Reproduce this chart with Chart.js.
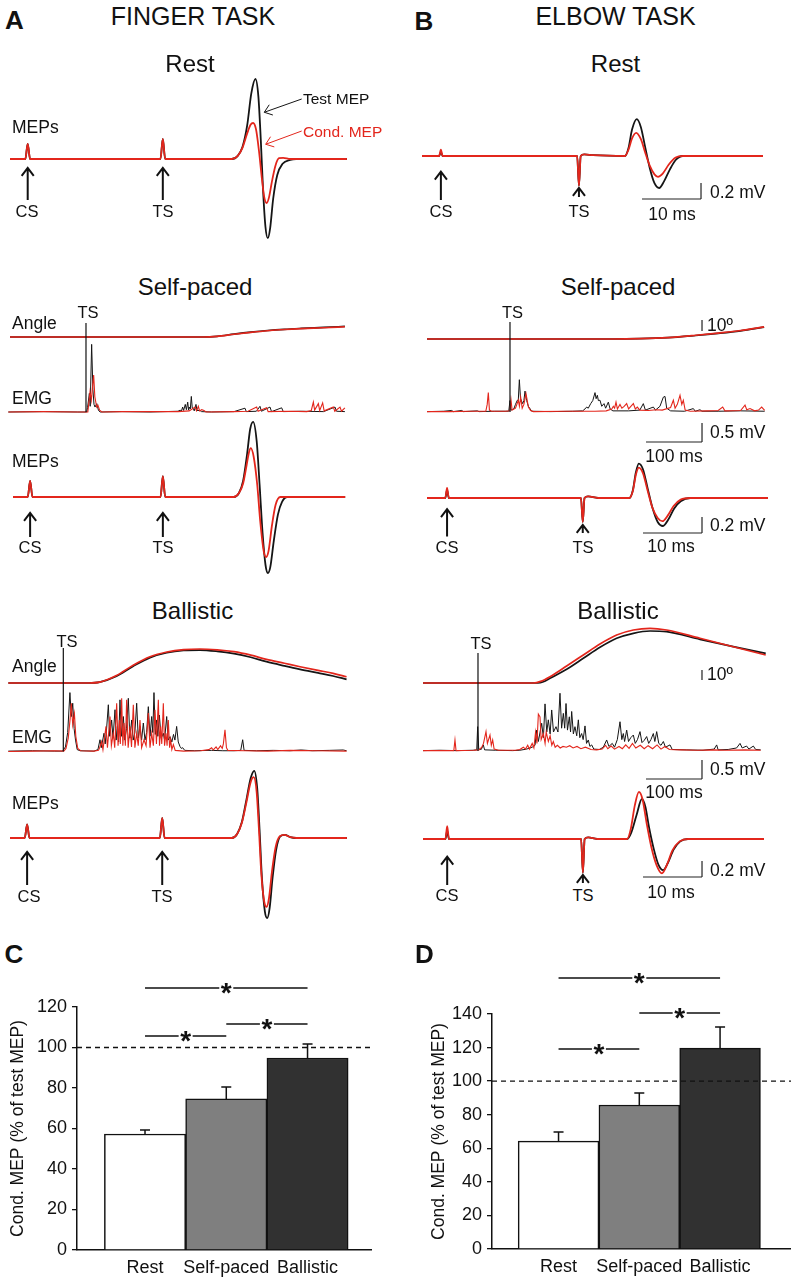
<!DOCTYPE html>
<html>
<head>
<meta charset="utf-8">
<script src="https://cdn.jsdelivr.net/npm/chart.js@4.4.1/dist/chart.umd.min.js"></script>
<style>
  body { margin: 0; width: 791px; height: 1280px; position: relative; background: #fff; overflow: hidden;
         font-family: "Liberation Sans", Arial, sans-serif; color: #111; }
  canvas { position: absolute; }
  .t { position: absolute; white-space: nowrap; line-height: 1; }
</style>
</head>
<body>
<script>
// ---------- data (time in ms, MEP in mV, angle in degrees, EMG in mV) ----------
// MEP sweeps: [ms, mV]
const aRestTest = [[0,0],[2.6,0],[3.0,0.19],[3.4,0],[25.5,0],[25.9,0.25],[26.3,0],[37.6,0],[38.6,0.04],[39.4,0.15],[40.2,0.42],[40.9,0.82],[41.6,1.0],[42.1,0.78],[42.5,0.25],[42.9,-0.4],[43.3,-0.85],[43.7,-0.99],[44.1,-0.86],[44.6,-0.5],[45.3,-0.2],[46.2,-0.06],[47.5,-0.01],[48.5,0],[57.1,0]];
const aRestCond = [[0,0],[2.6,0],[3.0,0.19],[3.4,0],[25.5,0],[25.9,0.25],[26.3,0],[37.6,0],[38.6,0.04],[39.4,0.14],[40.2,0.32],[40.8,0.43],[41.2,0.45],[41.7,0.37],[42.2,0.1],[42.7,-0.25],[43.1,-0.48],[43.5,-0.55],[43.9,-0.48],[44.4,-0.28],[45.0,-0.08],[45.6,0.01],[46.3,0.015],[47.5,0],[57.1,0]];
const aSelfTest = [[0,0],[2.5,0],[2.9,0.2],[3.3,0],[25.0,0],[25.4,0.26],[25.8,0],[37.4,0],[38.3,0.05],[39.0,0.2],[39.7,0.55],[40.2,0.85],[40.7,0.94],[41.3,0.7],[41.8,0.15],[42.3,-0.45],[42.8,-0.85],[43.2,-0.95],[43.6,-0.88],[44.2,-0.55],[44.9,-0.22],[45.6,-0.06],[46.5,0],[56.3,0]];
const aSelfCond = [[0,0],[2.5,0],[2.9,0.2],[3.3,0],[25.0,0],[25.4,0.26],[25.8,0],[37.4,0],[38.3,0.05],[39.0,0.17],[39.6,0.4],[40.0,0.56],[40.3,0.61],[40.8,0.5],[41.4,0.15],[41.9,-0.3],[42.5,-0.68],[42.9,-0.75],[43.3,-0.68],[43.9,-0.35],[44.5,-0.1],[45.3,0],[56.3,0]];
const aBallTest = [[0,0],[2.5,0],[2.9,0.17],[3.3,0],[25.4,0],[25.8,0.25],[26.2,0],[37.6,0],[38.5,0.05],[39.3,0.2],[40.0,0.45],[40.8,0.75],[41.4,0.84],[41.9,0.62],[42.3,0.1],[42.7,-0.5],[43.2,-0.92],[43.6,-1.0],[44.0,-0.88],[44.5,-0.5],[45.1,-0.15],[45.8,0.02],[46.6,0.04],[47.5,0.01],[48.5,0],[57.1,0]];
const aBallCond = [[0,0],[2.5,0],[2.9,0.17],[3.3,0],[25.4,0],[25.8,0.25],[26.2,0],[37.6,0],[38.5,0.05],[39.3,0.19],[40.0,0.42],[40.8,0.7],[41.3,0.76],[41.8,0.58],[42.2,0.1],[42.6,-0.45],[43.1,-0.8],[43.5,-0.86],[43.9,-0.75],[44.4,-0.42],[45.0,-0.12],[45.7,0.02],[46.5,0.04],[47.5,0.01],[48.5,0],[57.1,0]];
const bRestTest = [[0,0],[2.9,0],[3.2,0.05],[3.5,0],[26.3,0],[26.6,-0.37],[26.9,0],[27.5,0.02],[29,0.01],[34.4,0],[35.0,0.1],[35.6,0.33],[36.4,0.46],[37.1,0.36],[37.8,0.12],[38.6,-0.15],[39.4,-0.34],[40.2,-0.4],[41.0,-0.32],[42.0,-0.17],[43.0,-0.05],[44.2,0],[57.8,0]];
const bRestCond = [[0,0],[2.9,0],[3.2,0.08],[3.5,0],[26.3,0],[26.6,-0.37],[26.9,0],[27.5,0.02],[29,0.01],[34.4,0],[35.0,0.08],[35.6,0.22],[36.3,0.29],[37.1,0.21],[37.8,0.05],[38.6,-0.12],[39.4,-0.23],[40.0,-0.26],[40.8,-0.22],[41.8,-0.11],[43.0,-0.02],[44.2,0],[57.8,0]];
const bSelfTest = [[0,0],[3.1,0],[3.4,0.1],[3.7,0],[26.1,0],[26.4,-0.3],[26.7,0],[27.3,0.02],[29,0],[34.3,0],[34.9,0.1],[35.4,0.32],[35.9,0.43],[36.6,0.36],[37.4,0.12],[38.2,-0.12],[39.1,-0.3],[40.0,-0.35],[40.9,-0.27],[41.9,-0.13],[43.0,-0.04],[44.6,0],[57.8,0]];
const bSelfCond = [[0,0],[3.1,0],[3.4,0.125],[3.7,0],[26.1,0],[26.4,-0.3],[26.7,0],[27.3,0.02],[29,0],[34.3,0],[34.9,0.09],[35.4,0.29],[35.9,0.38],[36.6,0.31],[37.4,0.09],[38.2,-0.12],[39.1,-0.25],[39.9,-0.29],[40.8,-0.22],[41.8,-0.1],[43.0,-0.02],[44.6,0],[57.8,0]];
const bBallTest = [[0,0],[3.8,0],[4.1,0.1],[4.4,0],[26.8,0],[27.1,-0.42],[27.4,0],[28,0.02],[29.5,0],[34.6,0],[35.3,0.08],[36.2,0.3],[37.1,0.5],[37.7,0.4],[38.3,0.15],[39.1,-0.12],[39.9,-0.32],[40.7,-0.39],[41.5,-0.3],[42.5,-0.13],[43.6,-0.03],[44.9,0],[57.8,0]];
const bBallCond = [[0,0],[3.8,0],[4.1,0.16],[4.4,0],[26.8,0],[27.1,-0.42],[27.4,0],[28,0.02],[29.5,0],[34.6,0],[35.2,0.12],[35.9,0.42],[36.6,0.59],[37.2,0.5],[37.9,0.2],[38.7,-0.1],[39.6,-0.33],[40.5,-0.43],[41.3,-0.33],[42.3,-0.14],[43.5,-0.03],[44.9,0],[57.8,0]];

// joint angle: [ms, deg]
const aSelfAngleTest = [[0,0],[345,0],[370,0.6],[400,2.6],[430,4.4],[460,5.9],[490,7.0],[520,7.8],[560,8.7],[598,9.6]];
const aSelfAngleCond = [[0,0],[345,0],[370,0.6],[400,2.5],[430,4.2],[460,5.7],[490,6.8],[520,7.6],[560,8.4],[598,9.3]];
const aBallAngleTest = [[-3,0],[140,0],[160,0.8],[190,6.5],[220,16],[250,24.2],[280,28.8],[310,31],[339,31.4],[370,30.2],[400,28],[430,24.5],[458,20.3],[490,16.3],[518,13],[550,9.6],[577,6.7],[601,3.5]];
const aBallAngleCond = [[-3,0],[140,0],[160,0.8],[190,7.2],[220,17],[250,25],[280,29.5],[310,31.8],[339,32.4],[370,31.6],[400,29.8],[430,26.5],[458,22.5],[490,18.8],[518,15.5],[550,12],[577,9.2],[601,6]];
const bSelfAngleTest = [[0,0],[330,0],[380,0.3],[430,1.2],[480,3.2],[520,5.1],[560,7.4],[602,10.8]];
const bSelfAngleCond = [[0,0],[330,0],[380,0.3],[430,1.3],[480,3.4],[520,5.4],[560,7.7],[602,11.1]];
const bBallAngleTest = [[0,0],[205,0],[215,1.2],[226.8,4.7],[256.5,13.7],[286.3,24.7],[316,35.7],[345.8,44.7],[375.6,49.7],[405.4,52],[435,51.3],[494.6,43.7],[554,36.3],[612,29.7]];
const bBallAngleCond = [[0,0],[197,0],[210,1.6],[226.8,6.3],[256.5,17],[286.3,28],[316,39],[345.8,48],[375.6,53],[405.4,54.7],[435,53],[494.6,44.7],[554,36.3],[612,28]];

// rectified EMG: [ms, mV]
const aSelfEmgTest = [[-3,0],[60,0.01],[120,0],[137,0],[138.5,0.12],[141.7,0.49],[143.2,0.15],[145.8,1.78],[148,0.6],[150,0.2],[151.8,0.13],[155,0.22],[158,0.04],[161,0],[200,0.01],[250,0],[300,0.02],[304,0.05],[306,0.02],[308.3,0.13],[310,0.04],[313,0.2],[315,0.06],[317.3,0.26],[319,0.05],[320.2,0.13],[322,0.08],[323.8,0.41],[325.5,0.1],[327.4,0.09],[329,0.03],[332.1,0.2],[334,0.04],[339.3,0.04],[342,0.01],[360,0],[400,0.01],[419.6,0.1],[422,0.01],[440,0.02],[446.4,0.15],[449,0.02],[464.3,0.13],[467,0.01],[485.1,0.11],[488,0.01],[520,0.02],[560,0.01],[580.4,0.13],[583,0.02],[598,0.01]];
const aSelfEmgCond = [[-3,0],[60,0.01],[120,0],[139,0],[140.5,0.2],[142.9,0.53],[145.2,0.31],[147,0.6],[149.4,0.97],[151.5,0.4],[154.8,0.13],[157,0.18],[160,0.05],[164,0],[200,0.01],[300,0.01],[320,0.03],[330.4,0.13],[333,0.03],[336.3,0.15],[338.5,0.03],[342.3,0.06],[346.4,0.04],[350,0],[400,0.01],[425,0.02],[440.5,0.13],[443,0.02],[458.3,0.11],[461,0.01],[500,0.02],[530,0.01],[538,0.04],[541.7,0.26],[544,0.05],[550.6,0.22],[553,0.04],[558.3,0.24],[561,0.03],[577.4,0.13],[580,0.02],[589.3,0.13],[592,0.02],[598,0.11]];
const aBallEmgTest = [[-3,0.01],[40,0.02],[80,0.01],[94,0.01],[95.5,0.05],[99,0.12],[103,0.5],[107,1.55],[109.5,0.92],[112,1.27],[114.5,0.6],[117,0.3],[120,0.05],[125,0.02],[150,0.01],[157,0.05],[160.7,0.31],[163,0.1],[167.9,0.48],[170,0.2],[172,0.5],[175.6,1.23],[178,0.4],[181.5,0.83],[184,0.35],[187.5,1.1],[189.5,0.3],[191.7,0.66],[194,0.25],[196.4,1.36],[199,0.4],[202.4,0.92],[205,0.3],[208,0.6],[211.3,1.4],[214,0.35],[217.3,0.83],[220,0.3],[223,0.5],[226.2,1.27],[229,0.35],[232.1,0.66],[235,0.3],[238.1,0.75],[241,0.3],[244,0.5],[247,1.18],[250,0.4],[253,0.92],[255,0.5],[257.1,1.55],[259.5,0.45],[261.9,0.83],[264,0.4],[266.7,0.96],[270,0.35],[273.8,0.48],[276,0.3],[279.8,0.92],[282.5,0.3],[285.7,0.39],[289,0.25],[292,0.45],[294.5,0.3],[297.6,0.66],[300.5,0.25],[303.6,0.13],[306,0.08],[308.3,0.1],[312,0.03],[330,0.02],[360,0.03],[380,0.02],[400,0.02],[412,0.03],[415.5,0.31],[418,0.03],[440,0.02],[470,0.03],[500,0.02],[520,0.04],[540,0.02],[570,0.03],[595,0.04],[601,0.02]];
const aBallEmgCond = [[-3,0],[40,0.01],[80,0.02],[96,0.01],[100,0.08],[104,0.35],[107,0.8],[109.5,1.27],[112,0.7],[115,1.0],[117.5,0.4],[121,0.08],[126,0.02],[150,0.01],[158,0.03],[160,0.1],[163.7,0.26],[166,0.05],[171.4,0.66],[174,0.1],[178.6,0.92],[181,0.15],[184.5,0.48],[187,0.1],[190.5,1.27],[193,0.15],[195.2,0.83],[197,0.2],[199.4,1.4],[201.5,0.15],[203.6,0.75],[206,0.15],[208.3,1.36],[211,0.1],[214.3,0.66],[217,0.12],[220.2,1.23],[223,0.1],[226.2,0.48],[229,0.15],[232.1,0.83],[235,0.1],[239.3,0.31],[243,0.15],[247,1.01],[250,0.1],[253,0.48],[256,0.15],[258.9,1.1],[261.5,0.2],[264.9,1.36],[267,0.15],[269,0.66],[271,0.2],[273.8,1.27],[276,0.15],[278.6,0.48],[280.5,0.15],[282.7,0.83],[285,0.1],[286.9,0.31],[289,0.05],[291.7,0.18],[295,0.03],[310,0.01],[340,0.02],[355,0.05],[360,0.1],[363,0.04],[368,0.12],[371,0.05],[376,0.15],[379,0.08],[381,0.2],[383.9,0.57],[386.5,0.1],[389,0.03],[420,0.02],[460,0.01],[500,0.03],[550,0.02],[601,0.01]];
const bSelfEmgTest = [[0,0.01],[30,0.02],[44,0.04],[47,0.01],[62,0.04],[65,0.01],[90,0.03],[93,0.01],[120,0.02],[146,0.02],[148.2,0.3],[150,0.05],[155,0.08],[158,0.2],[161.3,0.31],[163,0.3],[164.9,0.85],[167,0.35],[170.8,0.22],[173,0.3],[175,0.55],[178,0.3],[181,0.15],[187,0.02],[220,0.01],[260,0.02],[278,0.03],[282.1,0.08],[285.1,0.13],[288,0.1],[292.3,0.22],[296,0.3],[300,0.51],[302,0.35],[304.2,0.44],[306,0.3],[308.9,0.31],[312,0.15],[316.1,0.22],[319,0.1],[323.8,0.26],[327,0.08],[332,0.03],[360,0.03],[380,0.05],[386.3,0.22],[390,0.05],[404.2,0.13],[408,0.05],[416,0.15],[422,0.39],[425,0.41],[428,0.1],[435,0.03],[460,0.02],[475.6,0.09],[479,0.02],[487.5,0.06],[491,0.02],[520,0.02],[560,0.03],[603,0.02]];
const bSelfEmgCond = [[0,0.01],[40,0.01],[80,0.02],[105,0.02],[107.5,0.2],[109.5,0.51],[111.5,0.05],[115,0.02],[140,0.02],[148,0.03],[150,0.32],[152,0.05],[158,0.1],[163.1,0.31],[165,0.15],[167.3,0.39],[170,0.1],[173,0.2],[176.8,0.48],[179,0.3],[181,0.13],[185,0.04],[190,0.01],[250,0.02],[300,0.02],[320,0.03],[330,0.08],[332.7,0.15],[335,0.1],[337.5,0.26],[340,0.08],[344.6,0.2],[348,0.1],[352,0.15],[356.5,0.22],[360,0.08],[364,0.15],[368.5,0.22],[372,0.08],[375.6,0.13],[380,0.05],[395,0.04],[410,0.06],[420,0.05],[435,0.12],[439.9,0.31],[443,0.1],[447,0.2],[451.8,0.44],[455,0.2],[457.7,0.31],[461,0.05],[470,0.02],[500,0.03],[520,0.04],[528,0.13],[532,0.03],[560,0.04],[567.9,0.18],[571,0.06],[576.8,0.09],[585,0.03],[592,0.05],[597.6,0.13],[603,0.04]];
const bBallEmgTest = [[0,0.01],[30,0.02],[60,0.01],[90,0.02],[96,0.03],[97.6,0.64],[99.5,0.05],[104,0.04],[107.7,0.16],[110,0.03],[130,0.02],[160,0.01],[173,0.02],[185,0.05],[195,0.1],[200,0.15],[203,0.55],[206,0.25],[211.9,0.73],[215,0.35],[217.9,1.24],[221,0.5],[223.8,0.82],[227,0.45],[229.8,1.08],[233,0.5],[237.5,0.64],[241,0.5],[244.6,1.52],[247.5,0.6],[250.6,0.99],[253,0.6],[255.4,1.25],[258,0.55],[261.3,0.9],[263.5,0.5],[265.5,1.04],[268.5,0.45],[271.4,0.64],[274.5,0.4],[277.4,0.82],[280,0.35],[283.3,0.46],[286,0.3],[289.3,0.66],[292,0.2],[295.2,0.29],[298,0.12],[301.2,0.16],[305,0.05],[315,0.04],[322,0.1],[328,0.29],[332,0.12],[338,0.2],[342,0.1],[347,0.3],[351.8,0.77],[355,0.3],[357.7,0.46],[360,0.25],[363.7,0.55],[367,0.25],[371,0.35],[375.6,0.42],[379,0.2],[383,0.3],[387.5,0.51],[391,0.22],[395,0.28],[399.4,0.38],[403,0.2],[407,0.3],[411.3,0.46],[414,0.25],[417.3,0.51],[421,0.2],[425,0.15],[429.2,0.25],[433,0.1],[441.1,0.16],[445,0.04],[470,0.03],[500,0.02],[520,0.05],[524.4,0.16],[527,0.03],[545,0.04],[560,0.08],[566.1,0.2],[570,0.08],[577.9,0.13],[582,0.05],[589.9,0.13],[594,0.04],[603,0.03]];
const bBallEmgCond = [[0,0.01],[30,0.01],[55,0.01],[57.1,0.29],[59,0.01],[90,0.02],[100,0.03],[105,0.1],[108,0.2],[112.5,0.51],[115,0.2],[119.6,0.42],[122,0.15],[124.4,0.29],[127,0.05],[135,0.02],[165,0.02],[173,0.04],[179.2,0.1],[183,0.05],[187,0.15],[190,0.05],[195,0.2],[198,0.08],[201,0.5],[203.5,0.2],[206,0.97],[208.9,0.9],[211,0.3],[214.9,0.46],[218,0.2],[220,0.5],[223.8,0.25],[227,0.4],[230,0.15],[232.7,0.25],[236,0.1],[240,0.15],[245,0.08],[250,0.12],[256,0.1],[262,0.14],[268,0.08],[275,0.12],[282,0.06],[290,0.1],[300,0.04],[310,0.03],[320,0.05],[326,0.15],[330,0.06],[336,0.13],[342,0.05],[350,0.12],[356,0.06],[362,0.16],[368,0.07],[374,0.2],[380,0.08],[388,0.15],[395,0.06],[402,0.14],[410,0.06],[418,0.16],[425,0.05],[432,0.12],[440,0.04],[460,0.03],[490,0.02],[520,0.03],[540,0.02],[575,0.03],[603,0.02]];

// group data for C and D
const conditions = ['Rest', 'Self-paced', 'Ballistic'];
const fingerMeans = [57.3, 74.6, 94.8];
const fingerErrors = [2.0, 5.9, 6.9];
const elbowMeans = [64.3, 85.8, 119.7];
const elbowErrors = [5.4, 7.1, 12.5];
// significance bars: [from condition, to condition, height]
const fingerSig = [[1, 3, 129.4], [2, 3, 111.6], [1, 2, 105.7]];
const elbowSig = [[1, 3, 161.4], [2, 3, 140.6], [1, 2, 119.1]];

// ---------- helpers ----------
const FONT = '"Liberation Sans", Arial, sans-serif';
const BLACK = '#151515';
const RED = '#e3261c';
Chart.defaults.font.family = FONT;
Chart.defaults.color = '#111';

function label(txt, x, y, size, o = {}) {
  const d = document.createElement('div');
  d.className = 't';
  d.textContent = txt;
  d.style.left = x + 'px';
  d.style.top = y + 'px';
  d.style.fontSize = size + 'px';
  d.style.transform = o.left ? 'translate(0,-50%)' : 'translate(-50%,-50%)';
  if (o.bold) d.style.fontWeight = 'bold';
  if (o.color) d.style.color = o.color;
  document.body.appendChild(d);
}

function addCanvas(box) {
  const cv = document.createElement('canvas');
  cv.width = box.w; cv.height = box.h;
  cv.style.left = box.x + 'px'; cv.style.top = box.y + 'px';
  document.body.appendChild(cv);
  return cv;
}

function drawArrow(ctx, x1, y1, x2, y2, head, color, lw) {
  const a = Math.atan2(y2 - y1, x2 - x1);
  ctx.strokeStyle = color; ctx.lineWidth = lw;
  ctx.beginPath();
  ctx.moveTo(x1, y1); ctx.lineTo(x2, y2);
  ctx.moveTo(x2 - head * Math.cos(a - 0.65), y2 - head * Math.sin(a - 0.65));
  ctx.lineTo(x2, y2);
  ctx.lineTo(x2 - head * Math.cos(a + 0.65), y2 - head * Math.sin(a + 0.65));
  ctx.stroke();
}

// annotations drawn through the chart scales
function marks(m) {
  return {
    id: 'marks',
    afterDatasetsDraw(chart) {
      const ctx = chart.ctx;
      const px = v => chart.scales.x.getPixelForValue(v);
      const py = (v, ax) => chart.scales[ax || 'y'].getPixelForValue(v);
      ctx.save();
      (m.segments || []).forEach(s => {
        ctx.strokeStyle = s.color || '#222'; ctx.lineWidth = s.lw || 1.2;
        ctx.beginPath();
        ctx.moveTo(px(s.x1), py(s.y1, s.ax1));
        ctx.lineTo(px(s.x2), py(s.y2, s.ax2));
        ctx.stroke();
      });
      (m.arrows || []).forEach(a => {
        drawArrow(ctx, px(a.x1), py(a.y1), px(a.x2), py(a.y2), a.head || 10, a.color || '#111', a.lw || 2);
      });
      ctx.restore();
    }
  };
}

const stimArrow = (t, tail, tip) => ({ x1: t, y1: tail, x2: t, y2: tip });
const lBar = (t, v, dt, dv, ax) => [
  { x1: t - dt, y1: v, x2: t, y2: v, ax1: ax, ax2: ax },
  { x1: t, y1: v, x2: t, y2: v + dv, ax1: ax, ax2: ax }
];
const vBar = (t, v, dv, ax) => ({ x1: t, y1: v, x2: t, y2: v + dv, ax1: ax, ax2: ax });

function line(data, color, axis, lw, smooth) {
  return {
    data: data.map(([x, y]) => ({ x, y })),
    borderColor: color, borderWidth: lw, pointRadius: 0, fill: false,
    yAxisID: axis, tension: 0,
    cubicInterpolationMode: smooth ? 'monotone' : 'default'
  };
}

// box: canvas in page px; map: page px of value 0 and px per unit for each axis
// (Chart.js paints the first dataset last, so the conditioned (red) sweeps go first)
function traceChart(box, map, datasets, m) {
  const cv = addCanvas(box);
  const scales = {
    x: { type: 'linear', display: false, bounds: 'data',
         min: (box.x - map.x0) / map.px, max: (box.x + box.w - map.x0) / map.px }
  };
  Object.entries(map.y).forEach(([id, a]) => {
    scales[id] = { type: 'linear', axis: 'y', display: false, bounds: 'data',
                   min: (a.y0 - box.y - box.h) / a.py, max: (a.y0 - box.y) / a.py };
  });
  return new Chart(cv, {
    type: 'line',
    data: { datasets },
    options: {
      responsive: false, animation: false, events: [],
      layout: { padding: 0 },
      plugins: { legend: { display: false }, tooltip: { enabled: false } },
      scales
    },
    plugins: [marks(m)]
  });
}

const MEP_PX = 5.9;   // px per ms in MEP sweeps
const MEP_PY = 80;    // px per mV
const MOV_PX = 0.56;  // px per ms in movement sweeps
const EMG_PY = 38;    // px per mV

function mepChart(box, x0, y0, test, cond, m) {
  return traceChart(box, { x0, px: MEP_PX, y: { y: { y0, py: MEP_PY } } },
    [line(cond, RED, 'y', 1.8, true), line(test, BLACK, 'y', 1.8, true)], m);
}
function movChart(box, x0, angY0, angPy, emgY0, angT, angC, emgT, emgC, m) {
  return traceChart(box, { x0, px: MOV_PX, y: { ya: { y0: angY0, py: angPy }, ye: { y0: emgY0, py: EMG_PY } } },
    [line(angC, RED, 'ya', 1.7, true), line(angT, BLACK, 'ya', 1.7, true),
     line(emgC, RED, 'ye', 1.1, false), line(emgT, BLACK, 'ye', 1, false)], m);
}

// ---------- panel A : finger task ----------
mepChart({ x: 0, y: 70, w: 395, h: 190 }, 10, 159, aRestTest, aRestCond, {
  arrows: [stimArrow(3.0, -0.5125, -0.1125), stimArrow(25.9, -0.5125, -0.1125),
           { x1: 49.44, y1: 0.75, x2: 43.1, y2: 0.584, head: 9, lw: 1, color: BLACK },
           { x1: 49.44, y1: 0.35, x2: 43.34, y2: 0.184, head: 9, lw: 1, color: RED }]
});
movChart({ x: 0, y: 300, w: 395, h: 125 }, 10, 337, 1.1, 412,
  aSelfAngleTest, aSelfAngleCond, aSelfEmgTest, aSelfEmgCond, {
  segments: [{ x1: 135.7, y1: 0, ax1: 'ye', x2: 135.7, y2: 12.7, ax2: 'ya', color: '#111', lw: 1.2 }]
});
mepChart({ x: 0, y: 415, w: 395, h: 175 }, 13, 497, aSelfTest, aSelfCond, {
  arrows: [stimArrow(2.9, -0.5, -0.2), stimArrow(25.4, -0.5, -0.2)]
});
movChart({ x: 0, y: 635, w: 395, h: 125 }, 10, 683, 1.05, 751.5,
  aBallAngleTest, aBallAngleCond, aBallEmgTest, aBallEmgCond, {
  segments: [{ x1: 95.2, y1: 0, ax1: 'ye', x2: 95.2, y2: 33.3, ax2: 'ya', color: '#111', lw: 1.2 }]
});
mepChart({ x: 0, y: 760, w: 395, h: 170 }, 10, 838, aBallTest, aBallCond, {
  arrows: [stimArrow(2.9, -0.5875, -0.175), stimArrow(25.8, -0.5875, -0.175)]
});

// ---------- panel B : elbow task ----------
mepChart({ x: 400, y: 100, w: 391, h: 110 }, 422, 156, bRestTest, bRestCond, {
  arrows: [stimArrow(3.2, -0.55, -0.196), stimArrow(26.6, -0.5125, -0.4)],
  segments: lBar(47.29, -0.5375, 10, 0.2, 'y')
});
movChart({ x: 400, y: 300, w: 391, h: 150 }, 427, 339, 1.1, 412,
  bSelfAngleTest, bSelfAngleCond, bSelfEmgTest, bSelfEmgCond, {
  segments: [{ x1: 148.2, y1: 0, ax1: 'ye', x2: 148.2, y2: 15.5, ax2: 'ya', color: '#111', lw: 1.2 },
             vBar(491.1, 7.27, 10, 'ya'), ...lBar(491.1, -0.79, 100, 0.5, 'ye')]
});
mepChart({ x: 400, y: 455, w: 391, h: 90 }, 427, 498, bSelfTest, bSelfCond, {
  arrows: [stimArrow(3.4, -0.48, -0.14), stimArrow(26.4, -0.4375, -0.3375)],
  segments: lBar(46.61, -0.4375, 10, 0.2, 'y')
});
movChart({ x: 400, y: 615, w: 391, h: 170 }, 423, 683, 1.0, 751,
  bBallAngleTest, bBallAngleCond, bBallEmgTest, bBallEmgCond, {
  segments: [{ x1: 98.2, y1: 0, ax1: 'ye', x2: 98.2, y2: 30, ax2: 'ya', color: '#111', lw: 1.2 },
             vBar(498.2, 3, 10, 'ya'), ...lBar(498.2, -0.737, 100, 0.5, 'ye')]
});
mepChart({ x: 400, y: 785, w: 391, h: 100 }, 423, 839, bBallTest, bBallCond, {
  arrows: [stimArrow(4.1, -0.575, -0.22), stimArrow(27.1, -0.55, -0.45)],
  segments: lBar(47.29, -0.475, 10, 0.2, 'y')
});

// ---------- panels C and D : group bars ----------
function barMarks(means, errs, sig) {
  return {
    id: 'barMarks',
    afterDatasetsDraw(chart) {
      const { ctx, chartArea: ca } = chart;
      const x = chart.scales.x, y = chart.scales.y;
      ctx.save();
      ctx.strokeStyle = '#111'; ctx.lineWidth = 1.5;
      means.forEach((m, i) => {
        const cx = x.getPixelForValue(i + 1);
        const y0 = y.getPixelForValue(m), y1 = y.getPixelForValue(m + errs[i]);
        ctx.beginPath();
        ctx.moveTo(cx, y0); ctx.lineTo(cx, y1);
        ctx.moveTo(cx - 5, y1); ctx.lineTo(cx + 5, y1);
        ctx.stroke();
      });
      const yr = y.getPixelForValue(100);
      ctx.setLineDash([5, 4]); ctx.lineWidth = 1.3;
      ctx.beginPath(); ctx.moveTo(ca.left, yr); ctx.lineTo(ca.right + 1, yr); ctx.stroke();
      ctx.setLineDash([]); ctx.lineWidth = 1.5;
      ctx.fillStyle = '#111';
      ctx.font = 'bold 28px ' + FONT;
      ctx.textAlign = 'center'; ctx.textBaseline = 'alphabetic';
      sig.forEach(([a, b, v]) => {
        const xa = x.getPixelForValue(a), xb = x.getPixelForValue(b);
        const yy = y.getPixelForValue(v), xm = (xa + xb) / 2;
        ctx.beginPath();
        ctx.moveTo(xa, yy); ctx.lineTo(xm - 7, yy);
        ctx.moveTo(xm + 7, yy); ctx.lineTo(xb, yy);
        ctx.stroke();
        ctx.fillText('*', xm, yy + 14);
      });
      ctx.restore();
    }
  };
}

function barChart(box, cfg) {
  const cv = addCanvas(box);
  return new Chart(cv, {
    type: 'bar',
    data: {
      datasets: [{
        data: conditions.map((c, i) => ({ x: i + 1, y: cfg.means[i] })),
        backgroundColor: ['#ffffff', '#7f7f7f', '#313131'],
        borderColor: '#111', borderWidth: 1.5, borderSkipped: 'bottom',
        barPercentage: 1, categoryPercentage: 1
      }]
    },
    options: {
      responsive: false, animation: false, events: [],
      layout: { padding: { top: cfg.padTop, right: cfg.padRight, left: 0, bottom: 0 } },
      plugins: { legend: { display: false }, tooltip: { enabled: false } },
      scales: {
        x: {
          type: 'linear', min: cfg.xMin, max: cfg.xMax, offset: false,
          grid: { display: false, drawTicks: false },
          border: { display: true, color: '#111', width: 1.5 },
          afterBuildTicks: s => { s.ticks = conditions.map((c, i) => ({ value: i + 1 })); },
          ticks: { callback: v => conditions[v - 1], font: { size: 18 }, color: '#111',
                   padding: 7, maxRotation: 0, autoSkip: false },
          afterFit: s => { s.height = cfg.xAxisH; }
        },
        y: {
          min: 0, max: cfg.yMax,
          ticks: { stepSize: 20, font: { size: 18 }, color: '#111', padding: 5 },
          grid: { display: true, drawOnChartArea: false, drawTicks: true, tickLength: 5,
                  color: '#111', lineWidth: 1.3 },
          border: { display: true, color: '#111', width: 1.5 },
          title: { display: true, text: 'Cond. MEP (% of test MEP)', font: { size: 17.5 },
                   color: '#111', padding: { top: cfg.titlePad, bottom: 0 } },
          afterFit: s => { s.width = cfg.yAxisW; }
        }
      }
    },
    plugins: [barMarks(cfg.means, cfg.errs, cfg.sig)]
  });
}

barChart({ x: 0, y: 970, w: 395, h: 310 }, {
  means: fingerMeans, errs: fingerErrors, sig: fingerSig, yMax: 120,
  padTop: 37, padRight: 24, xAxisH: 30, yAxisW: 77, titlePad: 7.5, xMin: 0.163, xMax: 3.781
});
barChart({ x: 400, y: 955, w: 391, h: 325 }, {
  means: elbowMeans, errs: elbowErrors, sig: elbowSig, yMax: 140,
  padTop: 59, padRight: 1, xAxisH: 31, yAxisW: 92, titlePad: 28.5, xMin: 0.176, xMax: 3.866
});

// ---------- text ----------
label('A', 14.5, 20, 26, { bold: true });
label('FINGER TASK', 193, 16, 25);
label('B', 424, 20.5, 26, { bold: true });
label('ELBOW TASK', 615.5, 16, 25);
label('C', 14, 954, 26, { bold: true });
label('D', 424.5, 954, 26, { bold: true });

label('Rest', 190, 64, 24);
label('Rest', 615.5, 64, 24);
label('Self-paced', 195, 287, 24);
label('Self-paced', 618, 287, 24);
label('Ballistic', 192.5, 611, 24);
label('Ballistic', 618, 611, 24);

label('MEPs', 12, 127.5, 17.5, { left: true });
label('Test MEP', 303, 99, 15.5, { left: true });
label('Cond. MEP', 303, 131.5, 15.5, { left: true, color: RED });
label('Angle', 12, 324, 17.5, { left: true });
label('EMG', 12, 399, 17.5, { left: true });
label('MEPs', 12, 462, 17.5, { left: true });
label('Angle', 12, 667, 17.5, { left: true });
label('EMG', 12, 737.5, 17.5, { left: true });
label('MEPs', 12, 804, 17.5, { left: true });

[[27, 211, 'CS'], [163, 211, 'TS'], [30, 547, 'CS'], [163, 547, 'TS'], [29, 896, 'CS'], [162, 896, 'TS'],
 [441, 211, 'CS'], [579, 210.5, 'TS'], [447, 547, 'CS'], [583, 547, 'TS'], [447, 895, 'CS'], [583, 895, 'TS'],
 [88, 312, 'TS'], [67, 641, 'TS'], [512.5, 312, 'TS'], [481, 643, 'TS']]
  .forEach(([x, y, s]) => label(s, x, y, 16.5));

label('0.2 mV', 710, 193, 17.5, { left: true });
label('10 ms', 672, 214.5, 17.5);
label('10º', 707, 325.5, 17.5, { left: true });
label('0.5 mV', 710, 432.5, 17.5, { left: true });
label('100 ms', 674, 457, 17.5);
label('0.2 mV', 710, 526, 17.5, { left: true });
label('10 ms', 671, 547, 17.5);
label('10º', 707, 675, 17.5, { left: true });
label('0.5 mV', 710, 769.5, 17.5, { left: true });
label('100 ms', 674, 793, 17.5);
label('0.2 mV', 710, 871, 17.5, { left: true });
label('10 ms', 671, 893, 17.5);
</script>
</body>
</html>
